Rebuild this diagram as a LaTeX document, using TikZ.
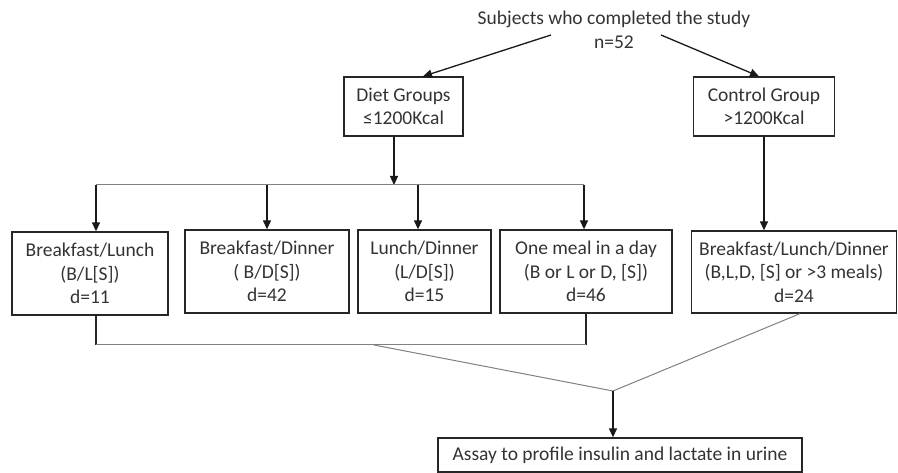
\documentclass[tikz,border=0pt]{standalone}
\usepackage{fontspec}
\setmainfont{Carlito}
\usetikzlibrary{arrows.meta,calc}

\begin{document}
\begin{tikzpicture}[x=1pt, y=-1pt,
    every node/.style={font=\fontsize{19.5}{23.5}\selectfont, text=black!80, align=center},
    grp/.style={draw=black!85, line width=1.3pt, inner sep=0pt},
    arr/.style={-{Triangle[length=9pt,width=8pt]}, line width=1.3pt, black!90},
    link/.style={line width=1.3pt, black!85},
    bus/.style={line width=1pt, black!50}]
    \useasboundingbox (0,0) rectangle (898,473);
    % top
    \node (subj) at (614,30) {Subjects who completed the study\\n=52};
    \node[grp, minimum width=119pt, minimum height=59pt] (diet) at (403.5,106.5) {Diet Groups\\≤1200Kcal};
    \node[grp, minimum width=141pt, minimum height=59pt] (ctrl) at (764,106.5) {Control Group\\>1200Kcal};
    % meal groups
    \node[grp, minimum width=156pt, minimum height=83pt] (bl) at (90,273.5) {Breakfast/Lunch\\(B/L[S])\\d=11};
    \node[grp, minimum width=164pt, minimum height=83pt] (bd) at (267,271.5) {Breakfast/Dinner\\( B/D[S])\\d=42};
    \node[grp, minimum width=133pt, minimum height=83pt] (ld) at (424.5,271.5) {Lunch/Dinner\\(L/D[S])\\d=15};
    \node[grp, minimum width=172pt, minimum height=83pt] (one) at (586,271.5) {One meal in a day\\(B or L or D, [S])\\d=46};
    \node[grp, minimum width=205pt, minimum height=82pt] (bld) at (794,272) {Breakfast/Lunch/Dinner\\(B,L,D, [S] or >3 meals)\\d=24};
    \node[grp, minimum width=364pt, minimum height=34pt] (assay) at (620,455) {Assay to profile insulin and lactate in urine};

    \coordinate (sl) at (551,35);
    \coordinate (sr) at (661,35);
    \coordinate (dj) at (394,185);
    \coordinate (b1) at (96,185);
    \coordinate (b2) at (267,185);
    \coordinate (b3) at (418,185);
    \coordinate (b4) at (584,185);
    \coordinate (c1) at (96,345);
    \coordinate (c4) at (586,345);
    \coordinate (m1) at (374,345);
    \coordinate (j) at (613,391);

    \draw[arr] (sl) -- ($(diet.north)+(19.5,0)$);
    \draw[arr] (sr) -- ($(ctrl.north)+(-5,0)$);
    \draw[arr] (dj |- diet.south) -- (dj);
    \draw[bus] (b1) -- (b4);
    \draw[arr] (b1) -- (b1 |- bl.north);
    \draw[arr] (b2) -- (b2 |- bd.north);
    \draw[arr] (b3) -- (b3 |- ld.north);
    \draw[arr] (b4) -- (b4 |- one.north);
    \draw[arr] (ctrl.south) -- (ctrl.south |- bld.north);
    % bottom
    \draw[link] (c1 |- bl.south) -- (c1);
    \draw[link] (c4 |- one.south) -- (c4);
    \draw[bus] (c1) -- (c4);
    \draw[bus] (m1) -- (j) -- ($(bld.south)+(6,0)$);
    \draw[arr] (j) -- (j |- assay.north);
\end{tikzpicture}
\end{document}
